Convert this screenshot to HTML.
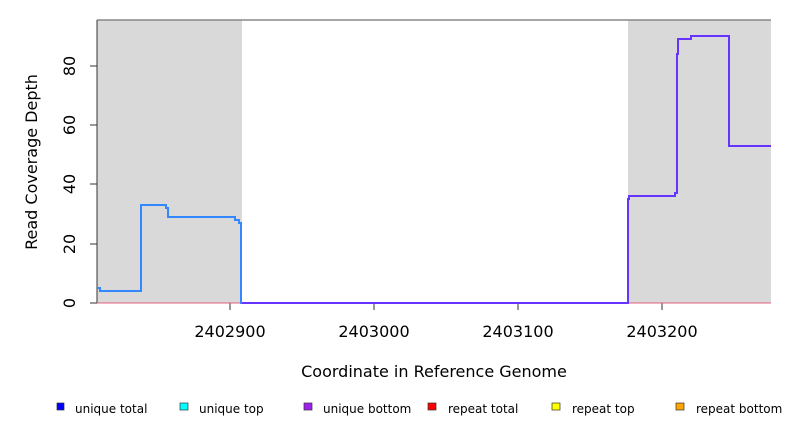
<!DOCTYPE html>
<html><head><meta charset="utf-8"><style>body{margin:0;background:#fff}svg{display:block}text{font-family:"DejaVu Sans","Liberation Sans",sans-serif}</style></head><body>
<svg width="792" height="432" viewBox="0 0 792 432" xmlns="http://www.w3.org/2000/svg">
<rect x="97" y="20" width="145" height="283" fill="#d9d9d9"/>
<rect x="628" y="20" width="143" height="283" fill="#d9d9d9"/>
<line x1="97" y1="20" x2="771" y2="20" stroke="#888" stroke-width="1.5"/>
<line x1="97" y1="20" x2="97" y2="303" stroke="#333" stroke-width="1"/>
<g stroke="#333" stroke-width="1">
<line x1="90" y1="303" x2="97" y2="303"/><line x1="90" y1="244" x2="97" y2="244"/><line x1="90" y1="184" x2="97" y2="184"/><line x1="90" y1="125" x2="97" y2="125"/><line x1="90" y1="66" x2="97" y2="66"/>
<line x1="230" y1="303" x2="230" y2="310"/><line x1="374" y1="303" x2="374" y2="310"/><line x1="518" y1="303" x2="518" y2="310"/><line x1="662" y1="303" x2="662" y2="310"/>
</g>
<line x1="97" y1="303" x2="771" y2="303" stroke="#e06080" stroke-width="1"/>
<polyline fill="none" stroke="#3388ff" stroke-width="2" points="97,288 100,288 100,291 141,291 141,205 166,205 166,208 168,208 168,217 235,217 235,220 239,220 239,223 241,223 241,303 628,303"/>
<polyline fill="none" stroke="#6633ff" stroke-width="2" points="242,303 628,303 628,199 629,199 629,196 675,196 675,193 677,193 677,54 678,54 678,39 691,39 691,36 729,36 729,146 771,146"/>
<g font-size="16" fill="#000" text-anchor="middle">
<text transform="translate(75,303) rotate(-90)">0</text>
<text transform="translate(75,244) rotate(-90)">20</text>
<text transform="translate(75,184) rotate(-90)">40</text>
<text transform="translate(75,125) rotate(-90)">60</text>
<text transform="translate(75,66) rotate(-90)">80</text>
<text x="230" y="337">2402900</text><text x="374" y="337">2403000</text><text x="518" y="337">2403100</text><text x="662" y="337">2403200</text>
<text x="434" y="377">Coordinate in Reference Genome</text>
<text transform="translate(37,162) rotate(-90)">Read Coverage Depth</text>
</g>
<g font-size="12" fill="#000" stroke="#333" stroke-width="0.7">
<rect x="57" y="403" width="7" height="7" fill="#0000ff"/>
<rect x="180" y="403" width="8" height="7" fill="#00ffff"/>
<rect x="304" y="403" width="8" height="7" fill="#a020f0"/>
<rect x="428" y="403" width="8" height="7" fill="#ff0000"/>
<rect x="552" y="403" width="8" height="7" fill="#ffff00"/>
<rect x="676" y="403" width="8" height="7" fill="#ffa500"/>
</g>
<g font-size="12" fill="#000">
<text x="75" y="413">unique total</text><text x="199" y="413">unique top</text><text x="323" y="413">unique bottom</text><text x="448" y="413">repeat total</text><text x="572" y="413">repeat top</text><text x="696" y="413">repeat bottom</text>
</g>
</svg>
</body></html>
